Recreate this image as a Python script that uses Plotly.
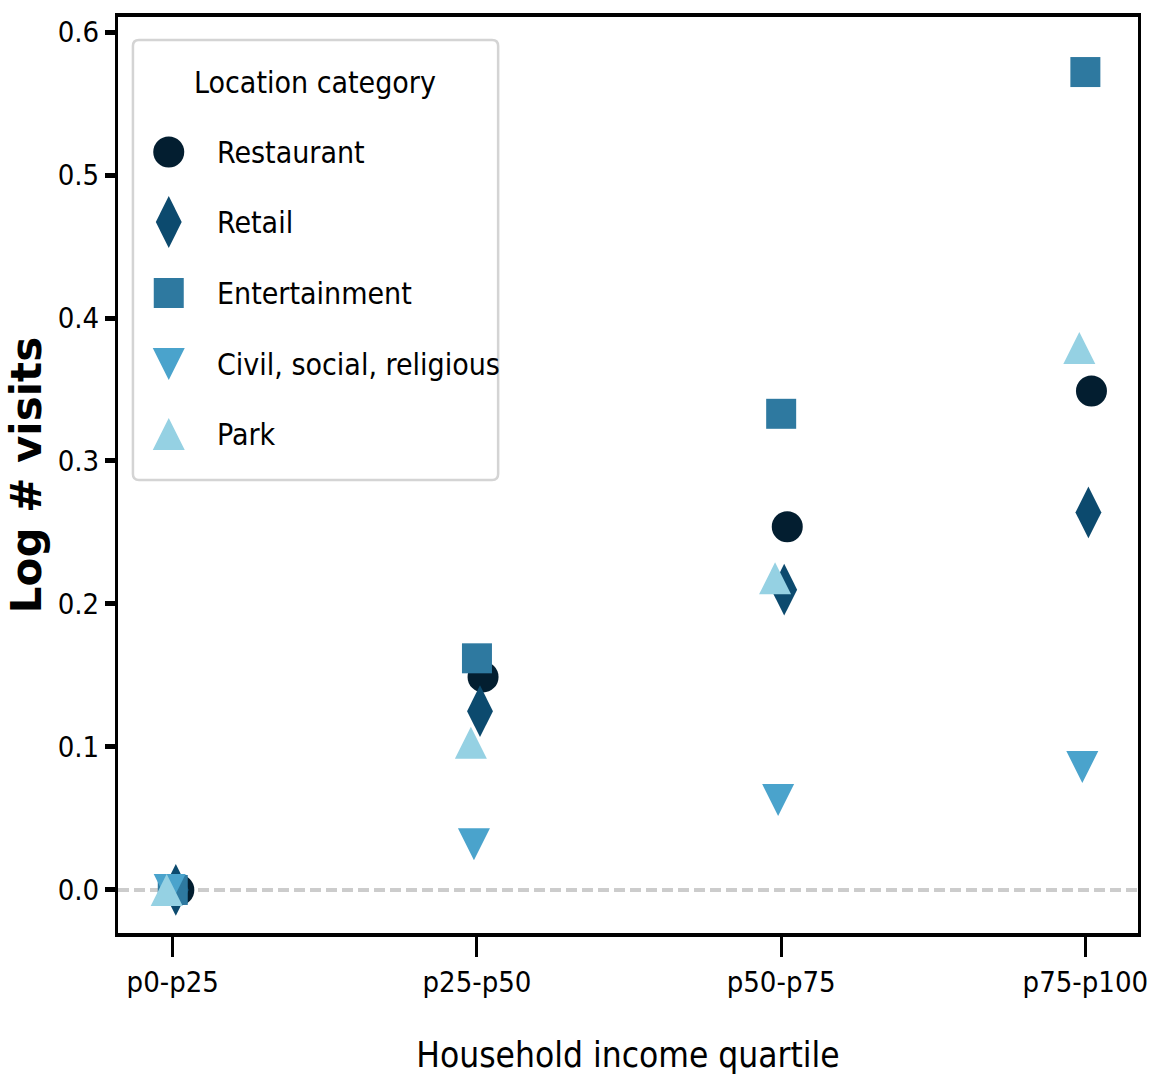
import plotly.graph_objects as go

# Mean log visits relative to the lowest income quartile, by location category
quartiles = ["p0-p25", "p25-p50", "p50-p75", "p75-p100"]
categories = ["Restaurant", "Retail", "Entertainment", "Civil, social, religious", "Park"]

restaurant = [0.0, 0.149, 0.254, 0.349]
retail = [0.0, 0.125, 0.210, 0.264]
entertainment = [0.0, 0.162, 0.333, 0.572]
civil_social_religious = [0.0, 0.032, 0.063, 0.086]
park = [0.0, 0.103, 0.218, 0.379]

y_ticks = [0.0, 0.1, 0.2, 0.3, 0.4, 0.5, 0.6]

series = [restaurant, retail, entertainment, civil_social_religious, park]
dodge = [0.02, 0.01, 0.0, -0.01, -0.02]
colors = ["#031e30", "#0c4a6e", "#2e79a0", "#4aa3cc", "#95d1e3"]

# marker style per category: (symbol, size, angle, standoff)
styles = [
    ("circle", 31, 0, 0),
    ("diamond-tall", 37, 0, 0),
    ("square", 30, 0, 0),
    ("arrow-down", 32, 0, 16),     # downward triangle centred on the point
    ("arrow-down", 32, 180, 16),   # upward triangle centred on the point
]

TEXT_FONT = "DejaVu Sans Condensed, Liberation Sans Narrow, DejaVu Sans"

fig = go.Figure()

for name, vals, dx, col, (sym, size, ang, stand) in zip(categories, series, dodge, colors, styles):
    fig.add_trace(go.Scatter(
        x=[i + dx for i in range(len(quartiles))],
        y=vals,
        mode="markers",
        name=name,
        showlegend=False,
        marker=dict(symbol=sym, size=size, color=col, angle=ang, standoff=stand,
                    line=dict(width=0)),
    ))

# Legend drawn on an overlay axis measured in pixels of the plot area
legend_rows = [152, 222, 293, 364, 434]
for name, col, (sym, size, ang, stand), ry in zip(categories, colors, styles, legend_rows):
    fig.add_trace(go.Scatter(
        x=[169], y=[ry], xaxis="x2", yaxis="y2",
        mode="markers", showlegend=False, hoverinfo="skip",
        marker=dict(symbol=sym, size=size, color=col, angle=ang, standoff=stand,
                    line=dict(width=0)),
    ))
    fig.add_annotation(x=215, y=ry, xref="x2", yref="y2", text=name, showarrow=False,
                       xanchor="left", yanchor="middle",
                       font=dict(family=TEXT_FONT, size=30, color="black"))

fig.add_annotation(x=316, y=82, xref="x2", yref="y2", text="Location category",
                   showarrow=False, xanchor="center", yanchor="middle",
                   font=dict(family=TEXT_FONT, size=30, color="black"))

fig.add_shape(type="path", xref="x2", yref="y2", layer="below",
              path="M 139,40 L 494,40 Q 500,40 500,46 L 500,474 Q 500,480 494,480 "
                   "L 139,480 Q 133,480 133,474 L 133,46 Q 133,40 139,40 Z",
              line=dict(color="#d4d4d4", width=2.5), fillcolor="white")

# Reference line at zero
fig.add_shape(type="line", xref="paper", x0=0, x1=1, yref="y", y0=0, y1=0,
              layer="below", line=dict(color="#cccccc", width=4, dash="11px,5px"))

fig.update_layout(
    width=1160, height=1090,
    margin=dict(l=118, r=17, t=17, b=157),
    plot_bgcolor="white", paper_bgcolor="white",
    showlegend=False,
    font=dict(family=TEXT_FONT, color="black"),
    xaxis=dict(
        range=[-0.18, 3.173],
        tickmode="array", tickvals=list(range(len(quartiles))), ticktext=quartiles,
        ticks="outside", ticklen=20, tickwidth=3, tickcolor="black",
        showline=True, linewidth=4, linecolor="black", mirror=True,
        showgrid=False, zeroline=False,
        tickfont=dict(family=TEXT_FONT, size=29, color="black"),
        title=dict(text="Household income quartile", standoff=46,
                   font=dict(family=TEXT_FONT, size=35, color="black")),
    ),
    yaxis=dict(
        range=[-0.0301, 0.6105],
        tickmode="array", tickvals=y_ticks, tickformat=".1f",
        ticks="outside", ticklen=10, tickwidth=5, tickcolor="black",
        showline=True, linewidth=3, linecolor="black", mirror=True,
        showgrid=False, zeroline=False,
        tickfont=dict(family=TEXT_FONT, size=29, color="black"),
        title=dict(text="Log # visits", standoff=4,
                   font=dict(family="DejaVu Sans", size=42, color="black", weight="bold")),
    ),
    xaxis2=dict(overlaying="x", range=[118, 1143], visible=False, fixedrange=True),
    yaxis2=dict(overlaying="y", range=[933, 17], visible=False, fixedrange=True),
)

fig.write_html("out.html")
